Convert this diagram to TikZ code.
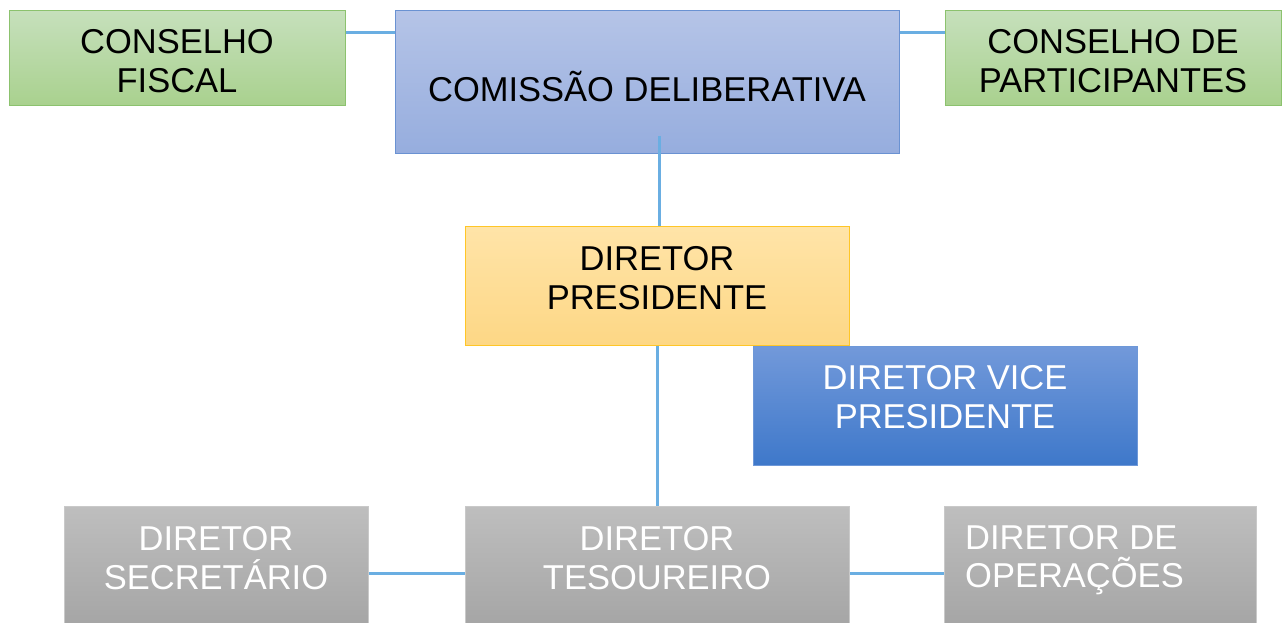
\documentclass[tikz,border=0pt]{standalone}
\usepackage{fontspec}
\setmainfont{Liberation Sans}
\usetikzlibrary{calc}
\definecolor{lnk}{HTML}{6AAEE2}
\definecolor{gtop}{HTML}{C6E0BC}
\definecolor{gbot}{HTML}{A9D18E}
\definecolor{gbrd}{HTML}{8CC26E}
\definecolor{btop}{HTML}{B5C4E7}
\definecolor{bbot}{HTML}{96ADDE}
\definecolor{bbrd}{HTML}{6A92D2}
\definecolor{ytop}{HTML}{FFE4A8}
\definecolor{ybot}{HTML}{FDD785}
\definecolor{ybrd}{HTML}{FFC627}
\definecolor{vtop}{HTML}{7299DA}
\definecolor{vbot}{HTML}{3E78CA}
\definecolor{vbrd}{HTML}{6E98D8}
\definecolor{ktop}{HTML}{BEBEBE}
\definecolor{kbot}{HTML}{A4A4A4}
\definecolor{kbrd}{HTML}{C9C9C9}
\tikzset{
  box/.style={anchor=north west, inner sep=0pt, line width=1.2pt, shading=axis, shading angle=0},
  greenbox/.style={box, draw=gbrd, top color=gtop, bottom color=gbot},
  bluebox/.style={box, draw=bbrd, top color=btop, bottom color=bbot},
  yellowbox/.style={box, draw=ybrd, top color=ytop, bottom color=ybot},
  vicebox/.style={box, draw=vbrd, top color=vtop, bottom color=vbot},
  graybox/.style={box, draw=kbrd, top color=ktop, bottom color=kbot},
  txt/.style={inner sep=0pt, align=center, font=\fontsize{34.5}{38.5}\selectfont},
  link/.style={draw=lnk, line width=3pt}
}
\begin{document}
\begin{tikzpicture}[x=1pt,y=-1pt]
\useasboundingbox (0,0) rectangle (1283,623);
% boxes
\node[greenbox, minimum width=336pt, minimum height=95pt] (cf) at (9,10) {};
\node[bluebox, minimum width=504pt, minimum height=143pt] (cd) at (395,10) {};
\node[greenbox, minimum width=336pt, minimum height=95pt] (cp) at (945,10) {};
\node[yellowbox, minimum width=384pt, minimum height=119pt] (dp) at (465,226) {};
\node[vicebox, minimum width=384pt, minimum height=119pt] (dv) at (753,346) {};
\node[graybox, minimum width=304pt, minimum height=125pt] (ds) at (64,506) {};
\node[graybox, minimum width=384pt, minimum height=125pt] (dt) at (465,506) {};
\node[graybox, minimum width=312pt, minimum height=125pt] (do) at (944,506) {};
% texts
\node[txt] (tcf) at (177,61) {CONSELHO\\FISCAL};
\node[txt] (tcd) at (647,87) {COMISSÃO DELIBERATIVA};
\node[txt] (tcp) at (1113,61) {CONSELHO DE\\PARTICIPANTES};
\node[txt] (tdp) at (657,278) {DIRETOR\\PRESIDENTE};
\node[txt, text=white] (tdv) at (945,397) {DIRETOR VICE\\PRESIDENTE};
\node[txt, text=white] (tds) at (216,558) {DIRETOR\\SECRETÁRIO};
\node[txt, text=white] (tdt) at (657,558) {DIRETOR\\TESOUREIRO};
\node[txt, text=white, align=left, anchor=west] (tdo) at (965,560) {DIRETOR DE\\OPERAÇÕES};
% connectors
\coordinate (cdin) at (659,136);
\draw[link] (cf.east |- 0,33) -- (cd.west |- 0,33);
\draw[link] (cd.east |- 0,33) -- (cp.west |- 0,33);
\draw[link] (cdin) -- (cdin |- dp.north);
\draw[link] (dp.south -| 657,0) -- (dt.north -| 657,0);
\draw[link] (ds.east |- 0,573) -- (dt.west |- 0,573);
\draw[link] (dt.east |- 0,573) -- (do.west |- 0,573);
\end{tikzpicture}
\end{document}
